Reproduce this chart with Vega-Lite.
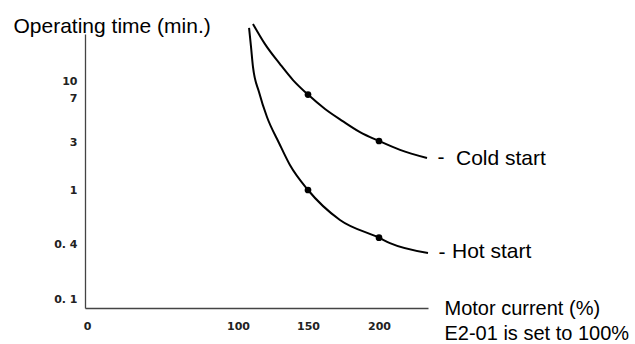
{
  "$schema": "https://vega.github.io/schema/vega-lite/v6.json",
  "width": 343,
  "height": 274,
  "autosize": {"type": "none"},
  "padding": {"left": 85, "top": 34, "right": 207, "bottom": 36},
  "background": "white",
  "config": {"view": {"stroke": null}},
  "datasets": {
    "curves": [
      {"series": "Cold start", "x": 110.7, "y": 34.3},
      {"series": "Cold start", "x": 119.3, "y": 25.7},
      {"series": "Cold start", "x": 130, "y": 17.2},
      {"series": "Cold start", "x": 139.3, "y": 10.4},
      {"series": "Cold start", "x": 150, "y": 7.6},
      {"series": "Cold start", "x": 162, "y": 6.0},
      {"series": "Cold start", "x": 174.4, "y": 4.9},
      {"series": "Cold start", "x": 186.6, "y": 3.9},
      {"series": "Cold start", "x": 200, "y": 3.09},
      {"series": "Cold start", "x": 214.8, "y": 2.67},
      {"series": "Cold start", "x": 233.8, "y": 2.33},
      {"series": "Hot start", "x": 107.9, "y": 32.6},
      {"series": "Hot start", "x": 109.3, "y": 24.5},
      {"series": "Hot start", "x": 110.7, "y": 16.0},
      {"series": "Hot start", "x": 115, "y": 8.06},
      {"series": "Hot start", "x": 120.7, "y": 5.27},
      {"series": "Hot start", "x": 129.3, "y": 2.96},
      {"series": "Hot start", "x": 137.1, "y": 2.04},
      {"series": "Hot start", "x": 150, "y": 1.0},
      {"series": "Hot start", "x": 172.5, "y": 0.667},
      {"series": "Hot start", "x": 200, "y": 0.47},
      {"series": "Hot start", "x": 207.7, "y": 0.41},
      {"series": "Hot start", "x": 234.5, "y": 0.351}
    ],
    "dots": [
      {"series": "Cold start", "x": 150, "y": 7.6},
      {"series": "Cold start", "x": 200, "y": 3.09},
      {"series": "Hot start", "x": 150, "y": 1.0},
      {"series": "Hot start", "x": 200, "y": 0.47}
    ]
  },
  "encoding": {
    "x": {
      "field": "x",
      "type": "quantitative",
      "scale": {"domain": [-1.3, 0, 100, 150, 200, 234.5], "range": [0, 2, 153, 223, 294, 343], "nice": false, "zero": false},
      "axis": {
        "values": [0, 100, 150, 200],
        "ticks": false,
        "grid": false,
        "domainColor": "#444444",
        "domainWidth": 1.3,
        "labelFont": "DejaVu Sans",
        "labelFontSize": 11,
        "labelFontWeight": "bold",
        "labelColor": "#222222",
        "labelPadding": 12,
        "labelFlush": false,
        "labelOverlap": false,
        "title": ["Motor current (%)", "E2-01 is set to 100%"],
        "titleFont": "Liberation Sans",
        "titleFontSize": 20,
        "titleFontWeight": "normal",
        "titleColor": "#000000",
        "titleAlign": "left",
        "titleBaseline": "alphabetic",
        "titleLineHeight": 25,
        "titleX": 359,
        "titleY": 6
      }
    },
    "y": {
      "field": "y",
      "type": "quantitative",
      "scale": {"domain": [0, 0.1, 0.4, 1, 3, 7, 10, 30], "range": [274, 265, 210, 156, 108, 64, 47, 0], "nice": false, "zero": false},
      "axis": {
        "values": [0.1, 0.4, 1, 3, 7, 10],
        "labelExpr": "replace(toString(datum.value), '.', '. ')",
        "ticks": false,
        "grid": false,
        "domainColor": "#444444",
        "domainWidth": 1.3,
        "labelFont": "DejaVu Sans",
        "labelFontSize": 11,
        "labelFontWeight": "bold",
        "labelColor": "#222222",
        "labelPadding": 8,
        "labelFlush": false,
        "labelOverlap": false,
        "title": "Operating time (min.)",
        "titleFont": "Liberation Sans",
        "titleFontSize": 21,
        "titleFontWeight": "normal",
        "titleColor": "#000000",
        "titleAngle": 0,
        "titleAlign": "left",
        "titleBaseline": "alphabetic",
        "titleX": -72,
        "titleY": -2
      }
    }
  },
  "layer": [
    {
      "data": {"name": "curves"},
      "mark": {"type": "line", "interpolate": "monotone", "color": "#000000", "strokeWidth": 2, "clip": false},
      "encoding": {"detail": {"field": "series", "type": "nominal"}}
    },
    {
      "data": {"name": "dots"},
      "mark": {"type": "circle", "size": 45, "color": "#000000", "opacity": 1}
    },
    {
      "data": {"name": "curves"},
      "transform": [{"filter": "datum.x > 230"}],
      "mark": {"type": "text", "text": "-", "font": "Liberation Sans", "fontSize": 21, "align": "center", "baseline": "alphabetic", "dx": 14, "dy": 6, "color": "#000000"}
    },
    {
      "data": {"name": "curves"},
      "transform": [{"filter": "datum.x > 230 && datum.series == 'Cold start'"}],
      "mark": {"type": "text", "font": "Liberation Sans", "fontSize": 21, "align": "left", "baseline": "alphabetic", "dx": 29, "dy": 7, "color": "#000000"},
      "encoding": {"text": {"field": "series", "type": "nominal"}}
    },
    {
      "data": {"name": "curves"},
      "transform": [{"filter": "datum.x > 230 && datum.series == 'Hot start'"}],
      "mark": {"type": "text", "font": "Liberation Sans", "fontSize": 21, "align": "left", "baseline": "alphabetic", "dx": 24, "dy": 5, "color": "#000000"},
      "encoding": {"text": {"field": "series", "type": "nominal"}}
    }
  ]
}
